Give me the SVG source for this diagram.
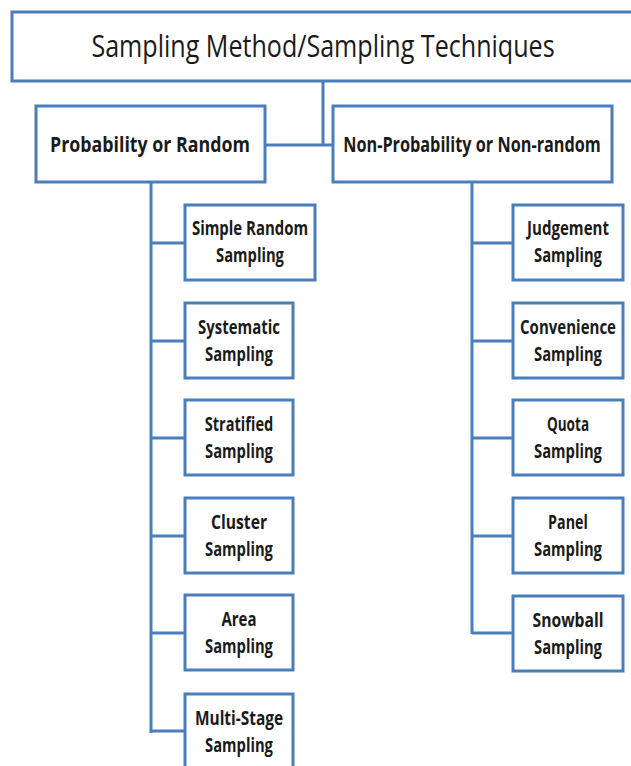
<svg xmlns="http://www.w3.org/2000/svg" width="631" height="766" viewBox="0 0 631 766">
  <style>
    .box { fill: #ffffff; stroke: #4a7ebb; stroke-width: 3; }
    .link { fill: none; stroke: #4a7ebb; stroke-width: 3; }
    text { font-family: "Open Sans", "Liberation Sans", sans-serif; fill: #1a1a1a; text-anchor: middle; }
    .title { font-size: 31px; }
    .head { font-size: 21px; font-weight: bold; }
    .leaf { font-size: 19.5px; font-weight: bold; }
  </style>
  <rect width="631" height="766" fill="#ffffff"/>

  <!-- connectors -->
  <g id="connectors">
    <path class="link" d="M323 81 V145 M265 145 H333"/>
    <path class="link" d="M151 182 V733 M151 243 H185 M151 341 H185 M151 438 H185 M151 536 H185 M151 633 H185 M151 731 H185"/>
    <path class="link" d="M472 182 V634 M472 243 H513 M472 341 H513 M472 438 H513 M472 536 H513 M472 633 H513"/>
  </g>

  <!-- root (texts are drawn condensed: translate to anchor, then narrow horizontally) -->
  <g id="root">
    <rect class="box" x="12" y="12" width="630" height="69"/>
    <text class="title" transform="translate(323 57) scale(0.8 1)" textLength="579" lengthAdjust="spacingAndGlyphs">Sampling Method/Sampling Techniques</text>
  </g>

  <!-- second level -->
  <g id="probability">
    <rect class="box" x="36" y="106" width="229" height="76"/>
    <text class="head" transform="translate(150 152) scale(0.8 1)" textLength="250" lengthAdjust="spacingAndGlyphs">Probability or Random</text>
  </g>
  <g id="non-probability">
    <rect class="box" x="333" y="106" width="279" height="76"/>
    <text class="head" transform="translate(472 152) scale(0.8 1)" textLength="322" lengthAdjust="spacingAndGlyphs">Non-Probability or Non-random</text>
  </g>

  <!-- probability methods -->
  <g id="simple-random">
    <rect class="box" x="185" y="205" width="130" height="75"/>
    <text class="leaf" transform="translate(250 235) scale(0.78 1)" textLength="149" lengthAdjust="spacingAndGlyphs">Simple Random</text>
    <text class="leaf" transform="translate(250 262) scale(0.78 1)" textLength="87" lengthAdjust="spacingAndGlyphs">Sampling</text>
  </g>
  <g id="systematic">
    <rect class="box" x="185" y="303" width="108" height="75"/>
    <text class="leaf" transform="translate(239 334) scale(0.78 1)" textLength="105" lengthAdjust="spacingAndGlyphs">Systematic</text>
    <text class="leaf" transform="translate(239 361) scale(0.78 1)" textLength="87" lengthAdjust="spacingAndGlyphs">Sampling</text>
  </g>
  <g id="stratified">
    <rect class="box" x="185" y="400" width="108" height="75"/>
    <text class="leaf" transform="translate(239 431) scale(0.78 1)" textLength="88" lengthAdjust="spacingAndGlyphs">Stratified</text>
    <text class="leaf" transform="translate(239 458) scale(0.78 1)" textLength="87" lengthAdjust="spacingAndGlyphs">Sampling</text>
  </g>
  <g id="cluster">
    <rect class="box" x="185" y="498" width="108" height="75"/>
    <text class="leaf" transform="translate(239 529) scale(0.78 1)" textLength="72" lengthAdjust="spacingAndGlyphs">Cluster</text>
    <text class="leaf" transform="translate(239 556) scale(0.78 1)" textLength="87" lengthAdjust="spacingAndGlyphs">Sampling</text>
  </g>
  <g id="area">
    <rect class="box" x="185" y="595" width="108" height="75"/>
    <text class="leaf" transform="translate(239 626) scale(0.78 1)" textLength="45" lengthAdjust="spacingAndGlyphs">Area</text>
    <text class="leaf" transform="translate(239 653) scale(0.78 1)" textLength="87" lengthAdjust="spacingAndGlyphs">Sampling</text>
  </g>
  <g id="multi-stage">
    <rect class="box" x="185" y="694" width="108" height="75"/>
    <text class="leaf" transform="translate(239 725) scale(0.78 1)" textLength="113" lengthAdjust="spacingAndGlyphs">Multi-Stage</text>
    <text class="leaf" transform="translate(239 752) scale(0.78 1)" textLength="87" lengthAdjust="spacingAndGlyphs">Sampling</text>
  </g>

  <!-- non-probability methods -->
  <g id="judgement">
    <rect class="box" x="513" y="205" width="110" height="75"/>
    <text class="leaf" transform="translate(568 235) scale(0.78 1)" textLength="105" lengthAdjust="spacingAndGlyphs">Judgement</text>
    <text class="leaf" transform="translate(568 262) scale(0.78 1)" textLength="87" lengthAdjust="spacingAndGlyphs">Sampling</text>
  </g>
  <g id="convenience">
    <rect class="box" x="513" y="303" width="110" height="75"/>
    <text class="leaf" transform="translate(568 334) scale(0.78 1)" textLength="123" lengthAdjust="spacingAndGlyphs">Convenience</text>
    <text class="leaf" transform="translate(568 361) scale(0.78 1)" textLength="87" lengthAdjust="spacingAndGlyphs">Sampling</text>
  </g>
  <g id="quota">
    <rect class="box" x="513" y="400" width="110" height="75"/>
    <text class="leaf" transform="translate(568 431) scale(0.78 1)" textLength="54" lengthAdjust="spacingAndGlyphs">Quota</text>
    <text class="leaf" transform="translate(568 458) scale(0.78 1)" textLength="87" lengthAdjust="spacingAndGlyphs">Sampling</text>
  </g>
  <g id="panel">
    <rect class="box" x="513" y="498" width="110" height="75"/>
    <text class="leaf" transform="translate(568 529) scale(0.78 1)" textLength="51" lengthAdjust="spacingAndGlyphs">Panel</text>
    <text class="leaf" transform="translate(568 556) scale(0.78 1)" textLength="87" lengthAdjust="spacingAndGlyphs">Sampling</text>
  </g>
  <g id="snowball">
    <rect class="box" x="513" y="596" width="110" height="75"/>
    <text class="leaf" transform="translate(568 627) scale(0.78 1)" textLength="91" lengthAdjust="spacingAndGlyphs">Snowball</text>
    <text class="leaf" transform="translate(568 654) scale(0.78 1)" textLength="87" lengthAdjust="spacingAndGlyphs">Sampling</text>
  </g>
</svg>
